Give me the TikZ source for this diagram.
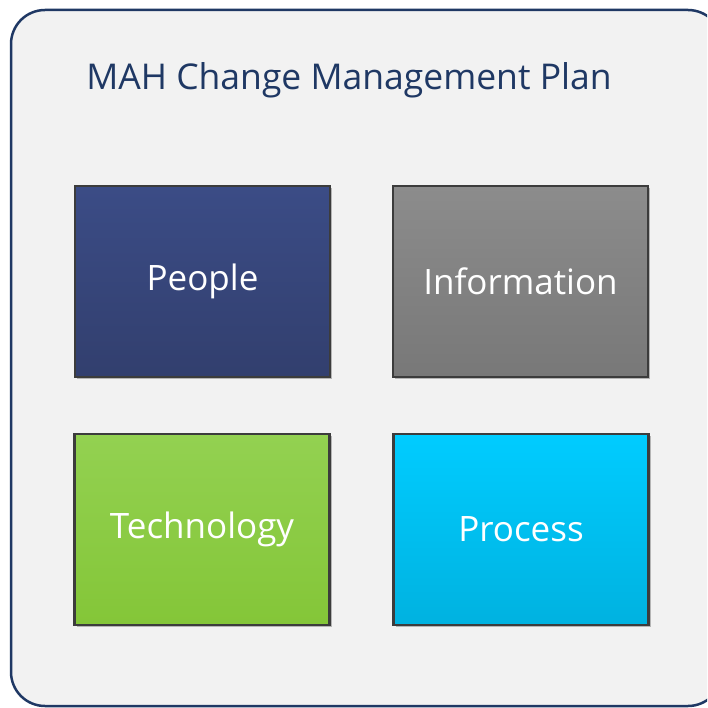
\documentclass[tikz,border=0pt]{standalone}
\usepackage{fontspec}
\setmainfont{Open Sans}
\usetikzlibrary{shadows}
\definecolor{navy}{HTML}{1F3864}
\definecolor{panel}{HTML}{F2F2F2}
\definecolor{edge}{HTML}{3C3C3C}
\tikzset{
  tile/.style={draw=edge, line width=2.5pt, minimum width=255pt, minimum height=191pt,
    inner sep=0pt, text=white, font=\fontsize{35}{40}\selectfont,
    drop shadow={shadow xshift=2pt, shadow yshift=-2pt, opacity=0.25, fill=black}},
  titletext/.style={text=navy, font=\fontsize{35.5}{40}\selectfont, inner sep=0pt}
}
\begin{document}
\begin{tikzpicture}[x=1pt,y=-1pt]
\useasboundingbox (0,0) rectangle (707,708);
\clip (0,0) rectangle (707,708);
\fill[white] (0,0) rectangle (707,708);
\draw[navy, line width=2.5pt, fill=panel, rounded corners=34pt] (11,10) rectangle (722,706);
\node[titletext] (title) at (349,80) {MAH Change Management Plan};
\node[tile, top color={rgb,255:red,59;green,76;blue,134}, bottom color={rgb,255:red,50;green,63;blue,110}] (people) at (202.5,281.5) {People};
\node[tile, top color={rgb,255:red,140;green,140;blue,140}, bottom color={rgb,255:red,120;green,120;blue,120}] (info) at (520.5,281.5) {Information};
\node[tile, top color={rgb,255:red,147;green,209;blue,81}, bottom color={rgb,255:red,132;green,198;blue,56}] (tech) at (202,529.5) {Technology};
\node[tile, top color={rgb,255:red,0;green,204;blue,255}, bottom color={rgb,255:red,0;green,178;blue,224}] (proc) at (521,529.5) {Process};
\end{tikzpicture}
\end{document}
